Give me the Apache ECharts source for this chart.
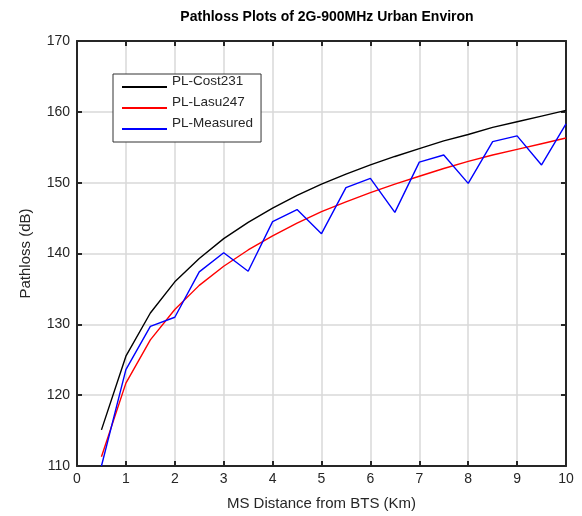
<!DOCTYPE html>
<html>
<head>
<meta charset="utf-8">
<script src="https://cdn.jsdelivr.net/npm/echarts@6/dist/echarts.min.js"></script>
<style>
  html, body { margin: 0; padding: 0; background: #fff; }
  #chart { width: 582px; height: 516px; }
</style>
</head>
<body>
<div id="chart"></div>
<script>
// distance from BTS (km)
const distance = [0.5, 1, 1.5, 2, 2.5, 3, 3.5, 4, 4.5, 5, 5.5, 6, 6.5, 7, 7.5, 8, 8.5, 9, 9.5, 10];

// pathloss values (dB)
const plCost231 = [115.1, 125.5, 131.6, 136.0, 139.3, 142.1, 144.4, 146.4, 148.2, 149.8,
                   151.2, 152.5, 153.7, 154.8, 155.9, 156.8, 157.8, 158.6, 159.4, 160.2];
const plLasu247 = [111.3, 121.7, 127.8, 132.1, 135.5, 138.2, 140.5, 142.5, 144.3, 145.9,
                   147.3, 148.6, 149.8, 150.9, 152.0, 153.0, 153.9, 154.7, 155.5, 156.3];
const plMeasured = [110.0, 123.6, 129.7, 131.0, 137.4, 140.1, 137.5, 144.5, 146.2, 142.8,
                    149.3, 150.6, 145.8, 152.9, 153.9, 149.9, 155.8, 156.6, 152.5, 158.3];

const seriesNames = ['PL-Cost231', 'PL-Lasu247', 'PL-Measured'];
const seriesColors = ['#000000', '#ff0000', '#0000ff'];

const chart = echarts.init(document.getElementById('chart'));

const font = 'Liberation Sans, Arial, sans-serif';
const axisColor = '#262626';

// 坐标轴边框（上、右）只画线和内刻度
const frameAxis = {
    axisLine: { show: true, onZero: false, lineStyle: { color: axisColor, width: 2 } },
    axisTick: { show: true, inside: true, length: 5, lineStyle: { color: axisColor, width: 2 } },
    axisLabel: { show: false },
    splitLine: { show: false }
};

// 图例图标：线放在底部，让文字略高于线
const legendIcon = 'path://M0,0L45,0L45,0.02L0,0.02Z M0,12L45,12L45,14L0,14Z';

const zip = (xs, ys) => xs.map((x, i) => [x, ys[i]]);

const option = {
    animation: false,
    title: {
        text: 'Pathloss Plots of 2G-900MHz Urban Environ',
        left: 322,
        textAlign: 'center',
        top: 5,
        textStyle: { fontFamily: font, fontSize: 14, fontWeight: 'bold', color: '#000' }
    },
    legend: {
        orient: 'vertical',
        left: 113,
        top: 74,
        data: seriesNames,
        icon: legendIcon,
        itemWidth: 45,
        itemHeight: 14,
        itemGap: 7,
        padding: [0, 8, 12, 9],
        backgroundColor: '#fff',
        borderColor: '#333',
        borderWidth: 1,
        borderRadius: 0,
        textStyle: { fontFamily: font, fontSize: 13.5, color: '#262626' }
    },
    grid: { left: 77, right: 16, top: 41, bottom: 45 },
    xAxis: [{
        type: 'value',
        min: 0,
        max: 10,
        interval: 1,
        name: 'MS Distance from BTS (Km)',
        nameLocation: 'middle',
        nameGap: 30,
        nameTextStyle: { fontFamily: font, fontSize: 15, color: axisColor },
        axisLine: { show: true, onZero: false, lineStyle: { color: axisColor, width: 2 } },
        axisTick: { show: true, inside: true, length: 5, lineStyle: { color: axisColor, width: 2 } },
        axisLabel: { fontFamily: font, fontSize: 14, color: axisColor, margin: 6 },
        splitLine: { show: true, lineStyle: { color: '#d9d9d9', width: 1.5 } }
    }, Object.assign({ type: 'value', position: 'top', min: 0, max: 10, interval: 1 }, frameAxis)],
    yAxis: [{
        type: 'value',
        min: 110,
        max: 170,
        interval: 10,
        name: 'Pathloss (dB)',
        nameLocation: 'middle',
        nameGap: 44,
        nameTextStyle: { fontFamily: font, fontSize: 15, color: axisColor },
        axisLine: { show: true, onZero: false, lineStyle: { color: axisColor, width: 2 } },
        axisTick: { show: true, inside: true, length: 5, lineStyle: { color: axisColor, width: 2 } },
        axisLabel: { fontFamily: font, fontSize: 14, color: axisColor, margin: 7 },
        splitLine: { show: true, lineStyle: { color: '#d9d9d9', width: 1.5 } }
    }, Object.assign({ type: 'value', position: 'right', min: 110, max: 170, interval: 10 }, frameAxis)],
    series: [plCost231, plLasu247, plMeasured].map((vals, i) => ({
        name: seriesNames[i],
        type: 'line',
        data: zip(distance, vals),
        showSymbol: false,
        symbol: 'none',
        lineStyle: { color: seriesColors[i], width: 1.4 },
        itemStyle: { color: seriesColors[i] },
        clip: true
    }))
};

chart.setOption(option);
</script>
</body>
</html>
